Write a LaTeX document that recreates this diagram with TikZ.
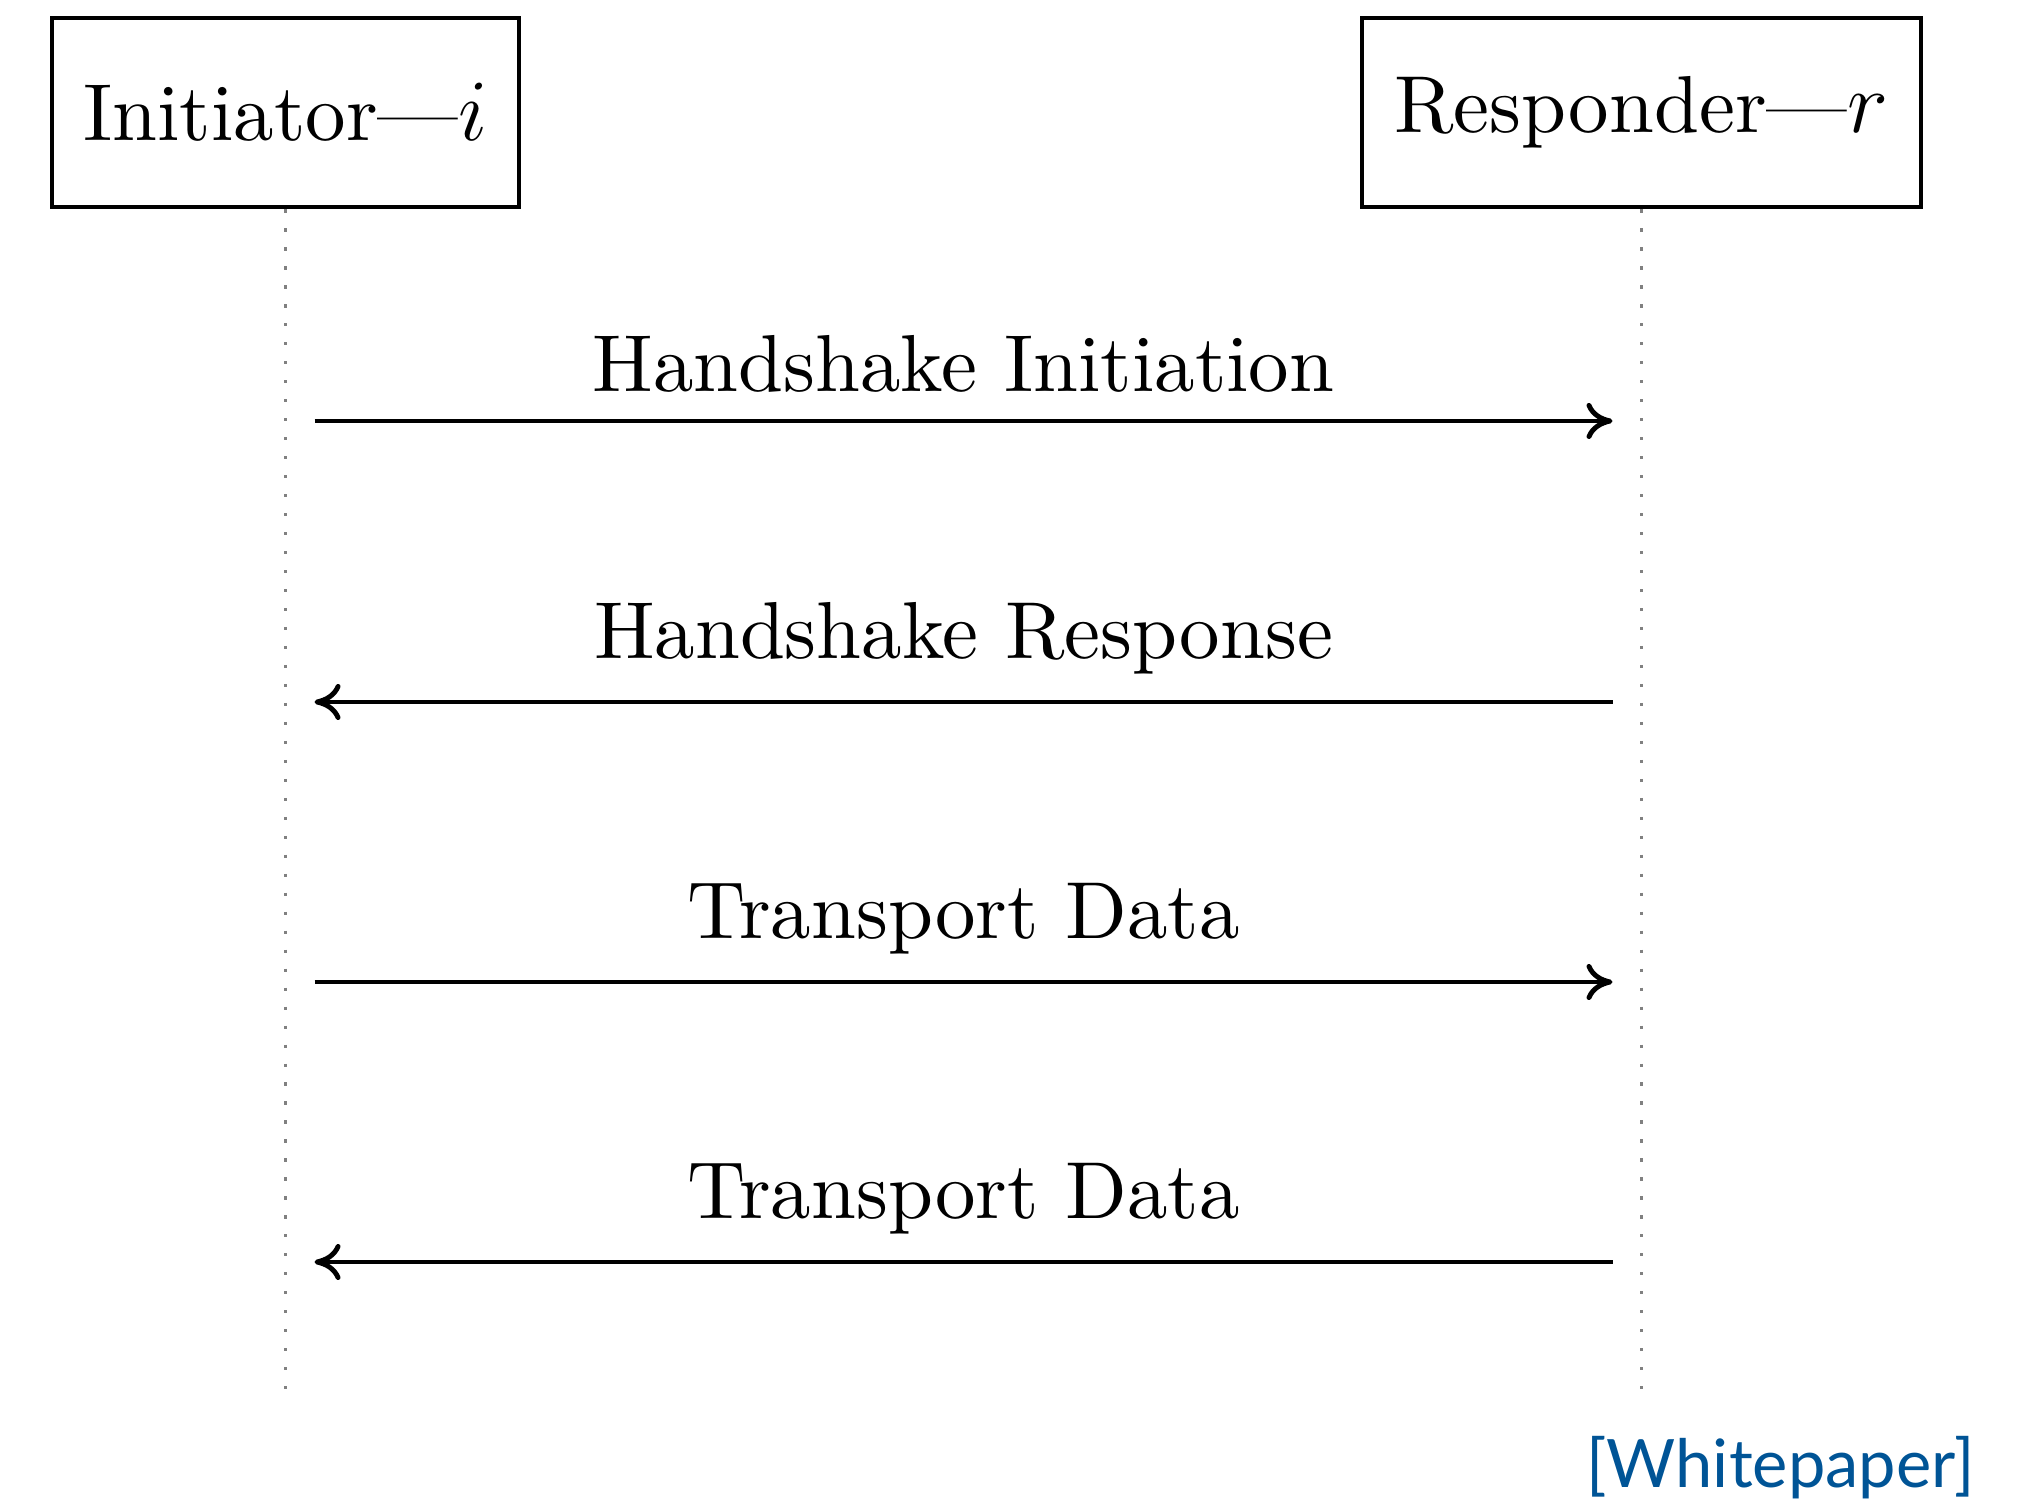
\documentclass[tikz,border=0pt]{standalone}
\usepackage{fontspec}
\setmainfont{lmroman10-regular.otf}
\newfontfamily\notefont{Lato}
\usetikzlibrary{positioning,arrows.meta}
\definecolor{noteblue}{RGB}{0,84,150}

\begin{document}
\begin{tikzpicture}[font=\fontsize{23}{27}\selectfont,
  party/.style={draw,line width=1.4pt,minimum height=1.89cm,inner sep=0pt},
  lifeline/.style={gray,line width=0.9pt,dash pattern=on 0.9pt off 4.5pt},
  msg/.style={-{To[length=2.6mm,width=3.6mm]},line width=1.4pt,shorten <=0.29cm,shorten >=0.29cm},
  msglabel/.style={above,yshift=0.14cm}]
 \useasboundingbox (0,0) rectangle (20.24,15.04);
 \node[party,minimum width=4.67cm] (init) at (2.855,13.915) {Initiator—$i$};
 \node[party,minimum width=5.59cm] (resp) at (16.415,13.915) {Responder—$r$};
 \coordinate (initEnd) at (2.855,1.10);
 \coordinate (respEnd) at (16.415,1.10);
 \draw[lifeline] (init.south) -- (initEnd);
 \draw[lifeline] (resp.south) -- (respEnd);
 % messages
 \coordinate (i1) at (2.855,10.83); \coordinate (r1) at (16.415,10.83);
 \coordinate (i2) at (2.855,8.02); \coordinate (r2) at (16.415,8.02);
 \coordinate (i3) at (2.855,5.22); \coordinate (r3) at (16.415,5.22);
 \coordinate (i4) at (2.855,2.42); \coordinate (r4) at (16.415,2.42);
 \draw[msg] (i1) -- node[msglabel] (m1) {Handshake Initiation} (r1);
 \draw[msg] (r2) -- node[msglabel] (m2) {Handshake Response} (i2);
 \draw[msg] (i3) -- node[msglabel] (m3) {Transport Data} (r3);
 \draw[msg] (r4) -- node[msglabel] (m4) {Transport Data} (i4);
 \node[anchor=base east,inner sep=0pt,text=noteblue,font=\notefont\fontsize{19}{21}\selectfont] (src) at (19.75,0.17) {[Whitepaper]};
\end{tikzpicture}
\end{document}
